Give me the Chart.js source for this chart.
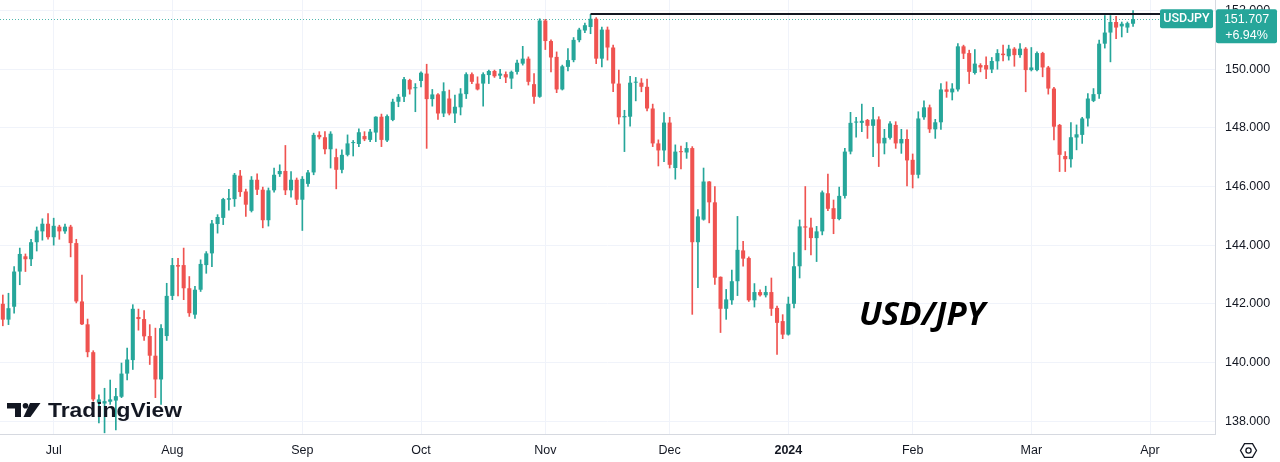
<!DOCTYPE html>
<html>
<head>
<meta charset="utf-8">
<title>USD/JPY</title>
<script src="https://cdn.jsdelivr.net/npm/chart.js@4.4.1/dist/chart.umd.min.js"></script>
<style>
  html, body { margin: 0; padding: 0; background: #ffffff; }
  #wrap { width: 1280px; height: 462px; position: relative; }
</style>
</head>
<body>
<div id="wrap"><canvas id="chart"></canvas></div>
<script>
// daily candles, 2023-06-20 .. 2024-03-27
var openPrices = [
  142.00, 141.46, 141.90, 143.10, 143.62, 143.52, 144.10, 144.47, 144.73, 144.27,
  144.63, 144.47, 144.63, 144.07, 142.08, 141.30, 140.35, 138.63, 138.60, 138.66,
  138.70, 138.83, 139.62, 140.08, 141.55, 141.48, 140.90, 140.23, 139.42, 140.90,
  142.27, 143.32, 143.32, 142.53, 141.63, 142.48, 143.32, 143.72, 144.72, 144.93,
  145.55, 145.57, 146.37, 145.83, 145.17, 146.23, 145.89, 144.85, 145.87, 146.42,
  146.53, 145.87, 146.23, 145.55, 146.09, 146.48, 147.76, 147.68, 147.27, 147.00,
  146.57, 147.08, 147.48, 147.45, 147.72, 147.59, 147.84, 148.38, 147.57, 148.27,
  148.89, 149.06, 149.63, 149.35, 149.60, 149.85, 148.98, 149.14, 148.49, 149.00,
  148.49, 148.70, 149.15, 149.83, 149.51, 149.51, 149.80, 149.94, 149.78, 149.83,
  149.68, 149.91, 150.19, 150.36, 149.49, 149.06, 151.66, 150.96, 150.42, 149.31,
  150.08, 150.31, 150.99, 151.32, 151.44, 151.72, 150.36, 151.35, 150.74, 149.51,
  148.36, 148.38, 149.54, 149.54, 149.40, 148.66, 147.47, 147.23, 148.18, 146.63,
  147.20, 147.16, 147.31, 144.10, 144.87, 146.17, 145.46, 142.92, 141.83, 142.12,
  142.77, 143.82, 143.56, 142.12, 142.40, 142.29, 142.40, 141.86, 141.41, 140.95,
  142.00, 143.28, 144.64, 144.60, 144.24, 144.47, 145.77, 145.26, 144.89, 145.68,
  147.19, 148.18, 148.17, 148.27, 148.07, 148.29, 147.47, 147.66, 148.10, 147.47,
  147.62, 146.91, 146.40, 148.36, 148.70, 147.95, 148.19, 149.31, 149.21, 149.31,
  150.78, 150.55, 149.87, 150.14, 150.14, 149.99, 150.27, 150.53, 150.44, 150.70,
  150.48, 150.70, 149.97, 149.97, 150.55, 150.06, 149.34, 148.10, 147.04, 146.93,
  147.67, 147.76, 148.32, 148.92, 149.15, 150.87, 151.25, 151.61, 151.46, 151.42,
  151.55
];
var highPrices = [
  142.30, 142.36, 143.27, 143.90, 143.70, 144.20, 144.62, 144.90, 145.08, 144.92,
  144.68, 144.72, 144.68, 144.20, 142.98, 141.48, 140.40, 138.90, 139.12, 139.40,
  139.12, 139.98, 140.49, 141.97, 141.82, 141.77, 141.29, 141.17, 141.29, 142.70,
  143.55, 143.55, 143.90, 142.93, 142.60, 143.50, 143.78, 144.85, 145.04, 145.60,
  145.90, 146.45, 146.55, 145.91, 146.34, 146.43, 145.98, 145.95, 146.63, 146.74,
  147.40, 146.51, 146.29, 146.34, 146.55, 147.82, 147.87, 147.87, 147.87, 147.28,
  147.25, 147.76, 147.57, 147.97, 147.87, 147.95, 148.38, 148.47, 148.44, 148.98,
  149.14, 149.72, 149.66, 149.51, 149.91, 150.17, 149.31, 149.17, 149.54, 149.29,
  149.12, 149.34, 149.88, 149.88, 149.74, 149.88, 149.97, 149.97, 150.00, 149.91,
  149.94, 150.31, 150.78, 150.42, 149.85, 151.72, 151.70, 151.00, 150.59, 150.14,
  150.70, 151.08, 151.40, 151.57, 151.87, 151.76, 151.44, 151.44, 150.82, 149.97,
  148.60, 149.76, 149.72, 149.68, 149.66, 148.81, 147.59, 148.52, 148.36, 147.42,
  147.38, 147.50, 147.36, 145.21, 146.63, 146.17, 146.00, 142.92, 142.49, 143.15,
  144.98, 144.13, 143.60, 142.69, 142.48, 142.60, 142.88, 141.92, 141.63, 142.23,
  143.75, 144.86, 146.00, 144.92, 144.64, 145.85, 146.42, 145.54, 145.98, 147.30,
  148.53, 148.36, 148.81, 148.29, 148.70, 148.38, 147.95, 148.21, 148.21, 147.95,
  147.93, 147.11, 148.55, 148.92, 148.78, 148.29, 149.51, 149.57, 149.51, 150.87,
  150.82, 150.65, 150.67, 150.19, 150.42, 150.40, 150.67, 150.82, 150.82, 150.74,
  150.87, 150.74, 150.74, 150.59, 150.58, 150.10, 149.38, 148.12, 147.19, 148.18,
  148.10, 148.36, 149.17, 149.34, 150.99, 151.83, 151.83, 151.80, 151.61, 151.61,
  152.00
];
var lowPrices = [
  141.25, 141.29, 141.68, 142.65, 143.10, 143.30, 143.80, 144.17, 144.20, 144.00,
  144.20, 144.40, 143.60, 142.03, 141.29, 140.19, 138.68, 137.94, 137.60, 138.57,
  137.70, 138.80, 139.40, 139.76, 141.10, 140.75, 139.93, 138.80, 138.57, 140.75,
  142.14, 142.27, 142.14, 141.57, 141.50, 142.42, 143.04, 143.27, 144.41, 144.70,
  145.19, 145.32, 145.66, 144.98, 145.13, 145.72, 144.59, 144.65, 145.81, 146.34,
  145.72, 145.64, 145.38, 144.50, 146.00, 146.40, 147.62, 147.11, 146.63, 145.92,
  146.46, 147.04, 147.04, 147.36, 147.56, 147.53, 147.53, 147.36, 147.53, 148.24,
  148.72, 148.89, 149.15, 148.55, 149.40, 147.30, 148.74, 148.29, 148.38, 148.44,
  148.18, 148.44, 149.00, 149.51, 149.29, 148.74, 149.51, 149.72, 149.68, 149.54,
  149.34, 149.83, 150.14, 149.46, 148.83, 149.04, 150.67, 149.91, 149.20, 149.29,
  149.94, 150.25, 150.93, 151.25, 151.21, 150.19, 150.08, 150.31, 149.23, 148.13,
  147.19, 148.06, 148.92, 149.23, 148.58, 147.36, 146.70, 146.85, 146.63, 146.25,
  146.60, 146.96, 141.64, 142.55, 144.85, 144.76, 142.66, 141.02, 141.47, 141.98,
  142.28, 143.28, 142.08, 141.89, 142.26, 142.23, 141.60, 140.27, 140.81, 140.93,
  141.86, 142.88, 143.84, 143.67, 143.44, 144.35, 145.18, 144.39, 144.86, 145.60,
  147.11, 147.68, 147.87, 147.64, 147.02, 146.68, 147.11, 147.61, 147.30, 147.13,
  146.02, 145.95, 146.29, 148.29, 147.84, 147.64, 147.95, 149.04, 148.95, 149.25,
  150.36, 149.51, 149.83, 149.91, 149.68, 149.88, 150.00, 150.28, 150.31, 150.10,
  150.40, 149.23, 149.94, 149.94, 149.74, 149.15, 147.59, 146.51, 146.51, 146.66,
  147.25, 147.47, 148.06, 148.89, 149.00, 150.72, 150.25, 151.04, 151.10, 151.25,
  151.46
];
var closePrices = [
  141.46, 141.85, 143.10, 143.70, 143.52, 144.10, 144.50, 144.73, 144.27, 144.66,
  144.47, 144.63, 144.07, 142.08, 141.30, 140.35, 138.74, 138.74, 138.68, 138.74,
  138.85, 139.62, 140.10, 141.83, 141.48, 140.89, 140.23, 139.42, 141.17, 142.27,
  143.32, 143.27, 142.53, 141.68, 142.48, 143.36, 143.72, 144.74, 144.96, 145.57,
  145.60, 146.40, 145.81, 145.38, 146.23, 145.89, 144.85, 145.87, 146.40, 146.53,
  145.87, 146.23, 145.55, 146.26, 146.48, 147.76, 147.68, 147.27, 147.80, 146.57,
  147.08, 147.47, 147.50, 147.85, 147.61, 147.87, 148.38, 147.59, 148.40, 148.89,
  149.06, 149.66, 149.31, 149.38, 149.88, 148.98, 149.14, 148.49, 149.25, 148.49,
  148.72, 149.17, 149.83, 149.57, 149.31, 149.83, 149.94, 149.76, 149.85, 149.72,
  149.91, 150.22, 150.36, 149.57, 149.06, 151.66, 150.96, 150.40, 149.31, 150.10,
  150.31, 151.00, 151.35, 151.50, 151.72, 150.36, 151.35, 150.74, 149.51, 148.36,
  148.40, 149.54, 149.57, 149.40, 148.66, 147.47, 147.23, 148.18, 146.74, 147.19,
  147.17, 147.31, 144.10, 144.98, 146.17, 145.46, 142.89, 141.83, 142.15, 142.77,
  143.84, 143.54, 142.12, 142.40, 142.29, 142.40, 141.83, 141.35, 140.95, 142.00,
  143.28, 144.64, 144.60, 144.24, 144.47, 145.80, 145.24, 144.89, 145.68, 147.19,
  148.17, 148.21, 148.24, 148.07, 148.29, 147.47, 147.66, 148.15, 147.47, 147.62,
  146.89, 146.40, 148.32, 148.70, 147.95, 148.19, 149.31, 149.23, 149.34, 150.78,
  150.53, 149.91, 150.19, 150.06, 149.99, 150.28, 150.55, 150.48, 150.70, 150.48,
  150.70, 149.97, 150.06, 150.55, 150.06, 149.34, 148.04, 147.08, 146.93, 147.68,
  147.78, 148.32, 149.00, 149.15, 150.87, 151.25, 151.61, 151.42, 151.55, 151.57,
  151.707
];

var firstDay = '2023-06-20';
var futureDays = 14;            // empty space to the right of the last candle
var skippedDays = ['2024-01-01'];
var monthNames = ['Jan', 'Feb', 'Mar', 'Apr', 'May', 'Jun', 'Jul', 'Aug', 'Sep', 'Oct', 'Nov', 'Dec'];
var yTicks = [138, 140, 142, 144, 146, 148, 150, 152];

var resistanceLevel = 151.88;
var resistanceFrom = '2023-11-13';
var resistanceTo = '2024-04-03';

var symbolName = 'USDJPY';
var changeText = '+6.94%';
var titleText = 'USD/JPY';

var upColor = '#26a69a';
var downColor = '#ef5350';
var textColor = '#131722';
var fontFamily = '"Liberation Sans", Arial, sans-serif';
var labelFont = '12.5px Roboto, "Liberation Sans", sans-serif';

// trading days (mon-fri)
function buildDates(count) {
    var list = [];
    var parts = firstDay.split('-');
    var d = new Date(Date.UTC(+parts[0], +parts[1] - 1, +parts[2]));
    while (list.length < count) {
        var day = d.getUTCDay();
        var iso = d.toISOString().slice(0, 10);
        if (day !== 0 && day !== 6 && skippedDays.indexOf(iso) === -1) {
            list.push(iso);
        }
        d.setUTCDate(d.getUTCDate() + 1);
    }
    return list;
}

var dates = buildDates(closePrices.length + futureDays);

// first trading day of every month gets a tick, january shows the year
var tickIndexes = [];
var tickLabels = {};
for (var i = 1; i < dates.length; i++) {
    if (dates[i].slice(5, 7) !== dates[i - 1].slice(5, 7)) {
        var m = +dates[i].slice(5, 7) - 1;
        tickIndexes.push(i);
        tickLabels[i] = m === 0 ? dates[i].slice(0, 4) : monthNames[m];
    }
}

var candleColors = closePrices.map(function (c, i) {
    return c >= openPrices[i] ? upColor : downColor;
});
var wickData = lowPrices.map(function (l, i) { return [l, highPrices[i]]; });
var bodyData = openPrices.map(function (o, i) { return [o, closePrices[i]]; });
var resistanceData = dates.map(function (d) {
    return (d === resistanceFrom || d === resistanceTo) ? resistanceLevel : null;
});

function roundRect(ctx, x, y, w, h, r) {
    ctx.beginPath();
    ctx.moveTo(x + r, y);
    ctx.lineTo(x + w - r, y);
    ctx.quadraticCurveTo(x + w, y, x + w, y + r);
    ctx.lineTo(x + w, y + h - r);
    ctx.quadraticCurveTo(x + w, y + h, x + w - r, y + h);
    ctx.lineTo(x + r, y + h);
    ctx.quadraticCurveTo(x, y + h, x, y + h - r);
    ctx.lineTo(x, y + r);
    ctx.quadraticCurveTo(x, y, x + r, y);
    ctx.closePath();
}

var overlayPlugin = {
    id: 'overlay',
    beforeDatasetsDraw: function (chart) {
        // dotted last price line
        var ctx = chart.ctx;
        var area = chart.chartArea;
        var y = Math.round(chart.scales.y.getPixelForValue(closePrices[closePrices.length - 1])) + 0.5;
        ctx.save();
        ctx.strokeStyle = 'rgba(38, 166, 154, 0.8)';
        ctx.lineWidth = 1;
        ctx.setLineDash([1, 2]);
        ctx.beginPath();
        ctx.moveTo(area.left, y);
        ctx.lineTo(area.right, y);
        ctx.stroke();
        ctx.restore();
    },
    afterDraw: function (chart) {
        var ctx = chart.ctx;
        var area = chart.chartArea;
        var lastClose = closePrices[closePrices.length - 1];
        var yp = chart.scales.y.getPixelForValue(lastClose);

        ctx.save();
        // symbol label
        ctx.fillStyle = upColor;
        roundRect(ctx, area.right - 55, yp - 10, 53, 19, 2);
        ctx.fill();
        ctx.fillStyle = '#ffffff';
        ctx.font = '500 ' + labelFont;
        ctx.textAlign = 'center';
        ctx.textBaseline = 'middle';
        ctx.fillText(symbolName, area.right - 28.5, yp);

        // price label on the axis
        ctx.fillStyle = upColor;
        roundRect(ctx, area.right + 1, yp - 10, 61, 34, 2);
        ctx.fill();
        ctx.fillStyle = '#ffffff';
        ctx.font = '12.5px ' + fontFamily;
        ctx.fillText(lastClose.toFixed(3), area.right + 31.5, yp + 0.5);
        ctx.fillText(changeText, area.right + 31.5, yp + 16);

        // big title
        ctx.fillStyle = '#000000';
        ctx.font = 'italic bold 33px "Open Sans", ' + fontFamily;
        ctx.textAlign = 'left';
        ctx.textBaseline = 'alphabetic';
        ctx.fillText(titleText, 859, 325);

        // TradingView watermark
        ctx.fillStyle = textColor;
        ctx.fillRect(7, 403, 14, 5.5);
        ctx.fillRect(15, 403, 6, 14);
        ctx.beginPath();
        ctx.arc(25.5, 405.8, 2.8, 0, Math.PI * 2);
        ctx.fill();
        ctx.beginPath();
        ctx.moveTo(30, 403);
        ctx.lineTo(40.5, 403);
        ctx.lineTo(30.5, 417);
        ctx.lineTo(23.5, 417);
        ctx.closePath();
        ctx.fill();
        ctx.font = 'bold 20px ' + fontFamily;
        var w = ctx.measureText('TradingView').width;
        ctx.translate(48, 417);
        ctx.scale(134 / w, 1);
        ctx.fillText('TradingView', 0, 0);
        ctx.restore();

        // settings icon
        ctx.save();
        ctx.strokeStyle = textColor;
        ctx.lineWidth = 1.3;
        var cx = 1248.5, cy = 450.5, r = 8;
        ctx.beginPath();
        for (var k = 0; k < 6; k++) {
            var a = Math.PI / 3 * k;
            var px = cx + r * Math.cos(a), py = cy + r * Math.sin(a);
            if (k === 0) ctx.moveTo(px, py); else ctx.lineTo(px, py);
        }
        ctx.closePath();
        ctx.stroke();
        ctx.beginPath();
        ctx.arc(cx, cy, 2.6, 0, Math.PI * 2);
        ctx.stroke();
        ctx.restore();
    }
};

var ctx = document.getElementById('chart').getContext('2d');
var chart = new Chart(ctx, {
    type: 'bar',
    data: {
        labels: dates,
        datasets: [{
            label: 'resistance',
            type: 'line',
            data: resistanceData,
            borderColor: '#131722',
            borderWidth: 2,
            pointRadius: 0,
            spanGaps: true,
            order: 0
        }, {
            label: 'body',
            data: bodyData,
            backgroundColor: candleColors,
            barPercentage: 0.72,
            categoryPercentage: 1,
            grouped: false,
            minBarLength: 1,
            order: 1
        }, {
            label: 'wick',
            data: wickData,
            backgroundColor: candleColors,
            barThickness: 1,
            grouped: false,
            order: 2
        }]
    },
    options: {
        responsive: true,
        maintainAspectRatio: false,
        animation: false,
        events: [],
        layout: { padding: 0 },
        plugins: {
            legend: { display: false },
            tooltip: { enabled: false }
        },
        scales: {
            x: {
                offset: true,
                grid: { color: '#f0f3fa', offset: false, drawTicks: false },
                border: { color: '#d6d9e0' },
                afterBuildTicks: function (scale) {
                    scale.ticks = tickIndexes.map(function (i) { return { value: i }; });
                },
                afterFit: function (scale) {
                    scale.height = 28;
                    scale.paddingLeft = 0;
                    scale.paddingRight = 0;
                },
                ticks: {
                    autoSkip: false,
                    maxRotation: 0,
                    minRotation: 0,
                    padding: 9,
                    color: textColor,
                    font: function (c) {
                        var isYear = c.tick && /^\d{4}$/.test(tickLabels[c.tick.value] || '');
                        return { family: fontFamily, size: 12.5, weight: isYear ? 'bold' : 'normal' };
                    },
                    callback: function (value) { return tickLabels[value]; }
                }
            },
            y: {
                position: 'right',
                min: 137.56,
                max: 152.36,
                grid: { color: '#f0f3fa', drawTicks: false },
                border: { color: '#d6d9e0' },
                afterBuildTicks: function (scale) {
                    scale.ticks = yTicks.map(function (v) { return { value: v }; });
                },
                afterFit: function (scale) {
                    scale.width = 65;
                    scale.paddingTop = 0;
                    scale.paddingBottom = 0;
                },
                ticks: {
                    padding: 10,
                    color: textColor,
                    font: { family: fontFamily, size: 12.5 },
                    callback: function (value) { return Number(value).toFixed(3); }
                }
            }
        }
    },
    plugins: [overlayPlugin]
});
</script>
</body>
</html>
